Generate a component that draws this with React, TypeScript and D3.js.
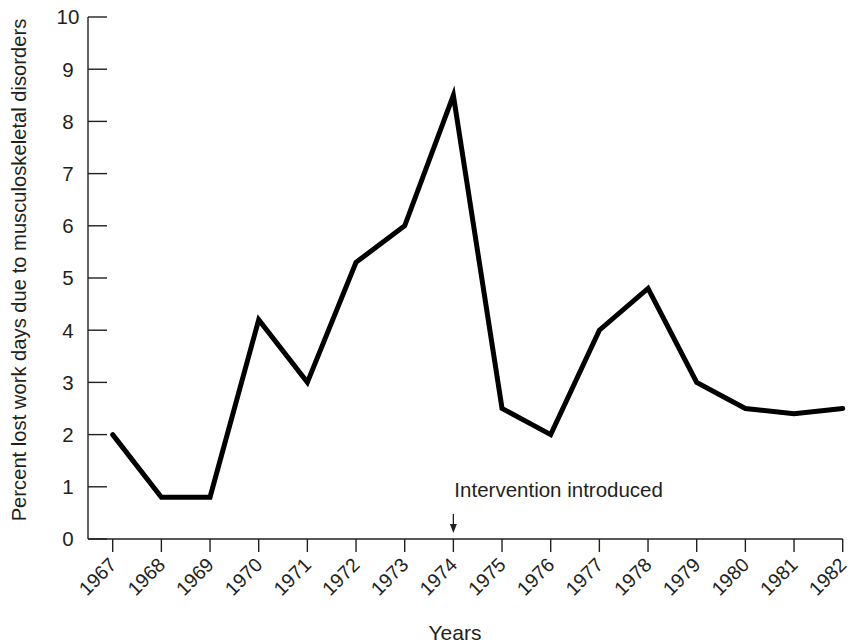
import React from "react";
import * as d3 from "d3";

const years = [1967, 1968, 1969, 1970, 1971, 1972, 1973, 1974, 1975, 1976, 1977, 1978, 1979, 1980, 1981, 1982];
const values = [2.0, 0.8, 0.8, 4.2, 3.0, 5.3, 6.0, 8.5, 2.5, 2.0, 4.0, 4.8, 3.0, 2.5, 2.4, 2.5];
const yTicks = [0, 1, 2, 3, 4, 5, 6, 7, 8, 9, 10];
const interventionYear = 1974;
const interventionLabel = "Intervention introduced";
const yLabel = "Percent lost work days due to musculoskeletal disorders";
const xLabel = "Years";

export default function App() {
  const W = 851, H = 644;
  const axisX = 88;
  const x = d3.scaleLinear().domain([1967, 1982]).range([112.7, 842.7]);
  const y = d3.scaleLinear().domain([0, 10]).range([539, 17]);
  const line = d3.line<number>().x((_, i) => x(years[i])).y((d) => y(d));
  const font = "'Liberation Sans', Arial, Helvetica, sans-serif";
  const ink = "#231f20";
  const ix = x(interventionYear);
  return (
    <svg width={W} height={H} style={{ position: "absolute", left: 0, top: 0 }} fontFamily={font}>
      {/* y axis */}
      <line x1={axisX} x2={axisX} y1={y(10)} y2={y(0)} stroke={ink} strokeWidth={1.4} />
      {yTicks.map((t) => (
        <g key={t}>
          <line x1={axisX} x2={axisX + 19} y1={y(t)} y2={y(t)} stroke={ink} strokeWidth={1.4} />
          <text x={68} y={y(t)} dy="0.36em" textAnchor="middle" fontSize={20.5} fill={ink}>{t}</text>
        </g>
      ))}
      {/* x axis */}
      <line x1={axisX} x2={x(1982)} y1={y(0)} y2={y(0)} stroke={ink} strokeWidth={1.4} />
      {years.map((yr) => (
        <g key={yr}>
          <line x1={x(yr)} x2={x(yr)} y1={y(0)} y2={y(0) + 13} stroke={ink} strokeWidth={1.4} />
          <text transform={`translate(${x(yr) + 5},${y(0) + 27}) rotate(-45)`} textAnchor="end" fontSize={19.5} fill={ink}>{yr}</text>
        </g>
      ))}
      {/* data line */}
      <path d={line(values) || ""} fill="none" stroke="#000" strokeWidth={5} strokeLinejoin="miter" strokeLinecap="round" />
      {/* intervention */}
      <text x={ix + 1} y={497} fontSize={20.5} fill={ink}>{interventionLabel}</text>
      <line x1={ix} x2={ix} y1={514} y2={526} stroke={ink} strokeWidth={1.3} />
      <path d={`M${ix - 3.5},${524} L${ix + 3.5},${524} L${ix},${533} Z`} fill={ink} />
      {/* labels */}
      <text transform={`translate(26,270) rotate(-90)`} textAnchor="middle" fontSize={20.2} fill={ink}>{yLabel}</text>
      <text x={455} y={640} textAnchor="middle" fontSize={21} fill={ink}>{xLabel}</text>
    </svg>
  );
}
